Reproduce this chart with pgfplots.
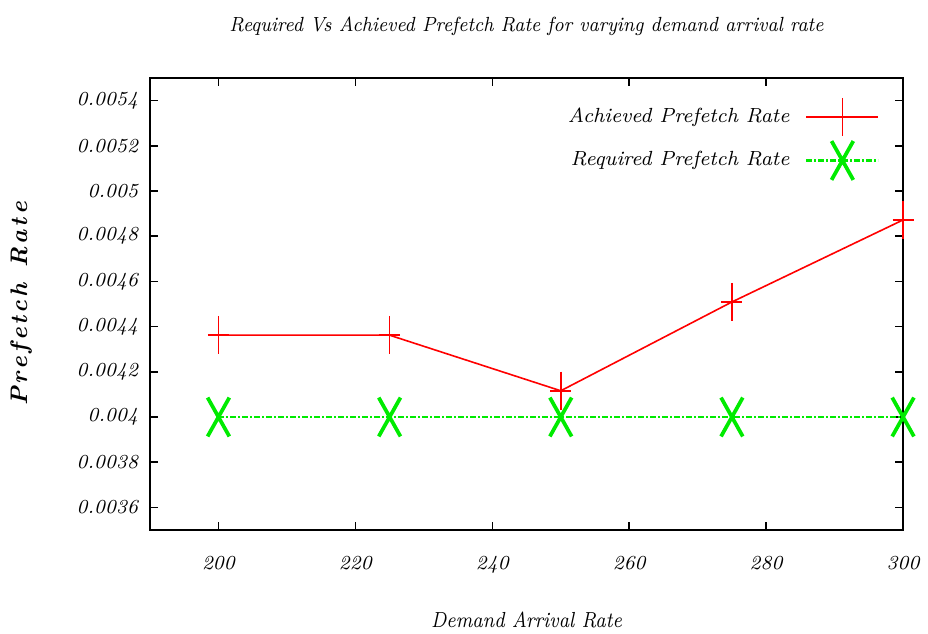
\documentclass[border=0pt]{standalone}
\usepackage{fontspec}
\usepackage{pgfplots}
\pgfplotsset{compat=1.18}
\definecolor{myred}{RGB}{255,0,0}
\definecolor{mygreen}{RGB}{0,235,0}
\newcommand{\lsp}{\kern1.1bp}
\begin{document}
\begin{tikzpicture}
\begin{axis}[
  scale only axis,
  width=282.4bp, height=169.5bp,
  xmin=190, xmax=300, ymin=0.0035, ymax=0.0055,
  xtick={200,220,240,260,280,300},
  ytick={0.0036,0.0038,0.004,0.0042,0.0044,0.0046,0.0048,0.005,0.0052,0.0054},
  yticklabels={0.0036,0.0038,0.004,0.0042,0.0044,0.0046,0.0048,0.005,0.0052,0.0054},
  scaled y ticks=false,
  tick align=inside,
  major tick length=3bp,
  axis line style={line width=0.8bp},
  tick style={line width=0.6bp, black},
  font=\fontsize{7.5}{9}\selectfont\itshape,
  /pgf/number format/assume math mode=true,
  xticklabel style={yshift=-6.5bp},
  yticklabel style={xshift=-1bp},
  title={\scalebox{0.91}[1]{Required Vs Achieved Prefetch Rate for varying demand arrival rate}},
  title style={at={(axis description cs:0.5,1.079)}, anchor=center, font=\fontsize{7.7}{9}\selectfont\itshape},
  xlabel={\scalebox{0.87}[1]{Demand Arrival Rate}},
  xlabel style={at={(axis description cs:0.5,-0.199)}, anchor=center, font=\fontsize{8.2}{9}\selectfont\itshape},
  ylabel={P\lsp r\lsp e\lsp f\lsp e\lsp t\lsp c\lsp h\lsp{} \lsp R\lsp a\lsp t\lsp e},
  ylabel style={at={(axis description cs:-0.17,0.5)}, anchor=center, font=\fontsize{9}{9}\selectfont\itshape\bfseries},
  legend plot pos=right,
  legend cell align=right,
  legend style={draw=none, fill=none, at={(axis description cs:0.98,0.969)}, anchor=north east,
    row sep=1.8bp, column sep=4bp, font=\fontsize{7.7}{9}\selectfont\itshape},
  legend image code/.code={
    \draw[mark repeat=2, mark phase=2, #1] plot coordinates {(0bp,0bp) (13.5bp,0bp) (27bp,0bp)};
  },
]
\addplot[color=myred, line width=0.6bp, mark=+, mark size=7.2bp,
  mark options={xscale=0.55, solid, line width=0.6bp}]
  coordinates {(200,0.004362) (225,0.004362) (250,0.004116) (275,0.004509) (300,0.004872)};
\addlegendentry{Achieved Prefetch Rate}
\addplot[color=mygreen, line width=0.8bp, dash pattern=on 2.25bp off 0.75bp on 0.75bp off 0.75bp,
  mark=x, mark size=10.3bp, mark options={xscale=0.56, solid, line width=1.4bp}]
  coordinates {(200,0.004) (225,0.004) (250,0.004) (275,0.004) (300,0.004)};
\addlegendentry{Required Prefetch Rate}
\end{axis}
\pgfresetboundingbox
\path (current axis.south west) ++(-56.25bp,-39bp) rectangle ++(348bp,237.75bp);
\end{tikzpicture}
\end{document}
